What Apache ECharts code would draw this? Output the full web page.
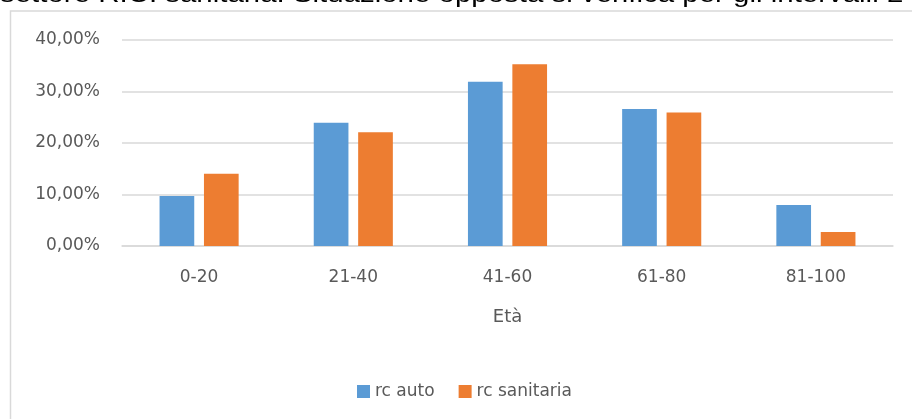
<!DOCTYPE html>
<html>
<head>
<meta charset="utf-8">
<script src="https://cdn.jsdelivr.net/npm/echarts@6/dist/echarts.min.js"></script>
<style>
  html, body { margin: 0; padding: 0; background: #fff; }
  #chart { width: 912px; height: 419px; }
</style>
</head>
<body>
<div id="chart"></div>
<script>
// fasce d'età e quote percentuali
const categories = ['0-20', '21-40', '41-60', '61-80', '81-100'];
const rcAuto = [9.7, 23.95, 31.9, 26.6, 7.95];
const rcSanitaria = [14.05, 22.1, 35.3, 25.9, 2.7];
const yTicks = [0, 10, 20, 30, 40];

const headText = 'settore R.C. sanitaria. Situazione opposta si verifica per gli intervalli 2';

const chart = echarts.init(document.getElementById('chart'));

const labelFont = 'DejaVu Sans';
const grey = '#595959';

const option = {
  animation: false,
  textStyle: { fontFamily: labelFont },
  graphic: [
    {
      // testo del documento tagliato in alto
      type: 'text',
      x: 0,
      y: -16,
      scaleX: 1.28,
      z: 10,
      style: { text: headText, font: '23px "Liberation Sans"', fill: '#000' }
    },
    {
      // cornice del grafico (solo lati sinistro e superiore visibili)
      type: 'rect',
      shape: { x: 10.5, y: 11, width: 1000, height: 500 },
      style: { fill: 'none', stroke: '#d9d9d9', lineWidth: 1.5 },
      silent: true
    }
  ],
  legend: {
    data: ['rc auto', 'rc sanitaria'],
    left: 352,
    top: 378,
    icon: 'rect',
    itemWidth: 13,
    itemHeight: 13,
    itemGap: 24,
    textStyle: { color: grey, fontSize: 17, fontFamily: labelFont }
  },
  grid: { left: 122, right: 19, top: 40, bottom: 173 },
  xAxis: {
    type: 'category',
    data: categories,
    name: 'Età',
    nameLocation: 'middle',
    nameGap: 62,
    nameTextStyle: { color: grey, fontSize: 18 },
    axisTick: { show: false },
    axisLine: { lineStyle: { color: '#d9d9d9', width: 1.5 } },
    axisLabel: { color: grey, fontSize: 17, margin: 23 }
  },
  yAxis: {
    type: 'value',
    min: 0,
    max: 40,
    interval: 10,
    axisLine: { show: false },
    axisTick: { show: false },
    splitLine: { lineStyle: { color: '#d9d9d9', width: 1.5 } },
    axisLabel: {
      color: grey,
      fontSize: 17,
      margin: 22,
      formatter: v => yTicks.includes(v) ? v.toFixed(2).replace('.', ',') + '%' : ''
    }
  },
  series: [
    {
      name: 'rc auto',
      type: 'bar',
      data: rcAuto,
      barWidth: '22.5%',
      barGap: '28%',
      itemStyle: { color: '#5b9bd5' }
    },
    {
      name: 'rc sanitaria',
      type: 'bar',
      data: rcSanitaria,
      barWidth: '22.5%',
      itemStyle: { color: '#ed7d31' }
    }
  ]
};

chart.setOption(option);
</script>
</body>
</html>
